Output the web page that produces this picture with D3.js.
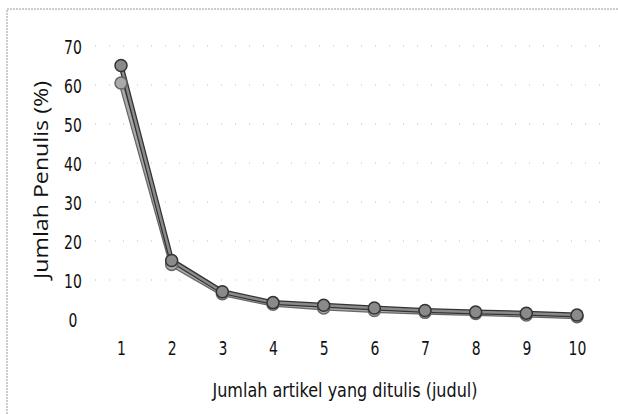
<!DOCTYPE html>
<html>
<head>
<meta charset="utf-8">
<script src="https://cdn.jsdelivr.net/npm/d3@7"></script>
<style>
  body { margin: 0; background: #fff; }
  text { fill: #111; }
</style>
</head>
<body>
<script>
// values
var categories = [1, 2, 3, 4, 5, 6, 7, 8, 9, 10];
var seriesA = [65, 15, 7, 4.2, 3.5, 2.8, 2.2, 1.8, 1.5, 1.0];
var seriesB = [60.5, 14, 6.5, 3.8, 2.8, 2.2, 1.7, 1.4, 1.0, 0.6];
var yTicks = [0, 10, 20, 30, 40, 50, 60, 70];

var width = 618, height = 414;
var narrow = 'scale(0.7,1)';

var svg = d3.select('body').append('svg')
  .attr('width', width)
  .attr('height', height);

// scanned page frame
svg.append('path')
  .attr('d', 'M7,414 V9 H618')
  .attr('fill', 'none')
  .attr('stroke', '#999')
  .attr('stroke-width', 1)
  .attr('stroke-dasharray', '2,1');

var x = d3.scaleLinear().domain([1, 10]).range([121, 577]);
var y = d3.scaleLinear().domain([0, 70]).range([319, 46]);

// dotted gridlines
svg.selectAll('.grid')
  .data(yTicks.filter(function(d) { return d > 0; }))
  .enter().append('line')
  .attr('x1', 95)
  .attr('x2', 602)
  .attr('y1', function(d) { return y(d); })
  .attr('y2', function(d) { return y(d); })
  .attr('stroke', '#bbb')
  .attr('stroke-width', 1)
  .attr('stroke-dasharray', '1,13');

// axes, text only
var yAxis = svg.append('g')
  .attr('transform', 'translate(73,0)')
  .call(d3.axisLeft(y).tickValues(yTicks).tickSize(0).tickPadding(0));
yAxis.select('.domain').remove();
yAxis.selectAll('text')
  .attr('font-family', '"DejaVu Sans", sans-serif')
  .attr('font-size', 20)
  .attr('dy', '0.38em')
  .attr('text-anchor', 'middle')
  .attr('transform', narrow);

var xAxis = svg.append('g')
  .attr('transform', 'translate(0,341)')
  .call(d3.axisBottom(x).tickValues(categories).tickFormat(d3.format('d')).tickSize(0).tickPadding(0));
xAxis.select('.domain').remove();
xAxis.selectAll('text')
  .attr('font-family', '"DejaVu Sans", sans-serif')
  .attr('font-size', 20)
  .attr('transform', narrow);

// axis titles
svg.append('text')
  .attr('x', 345)
  .attr('y', 397)
  .attr('text-anchor', 'middle')
  .attr('font-family', '"DejaVu Sans", sans-serif')
  .attr('font-size', 20)
  .attr('textLength', 265)
  .attr('lengthAdjust', 'spacingAndGlyphs')
  .text('Jumlah artikel yang ditulis (judul)');

svg.append('text')
  .attr('transform', 'translate(48,180) rotate(-90)')
  .attr('text-anchor', 'middle')
  .attr('font-family', '"Open Sans", "Noto Sans", sans-serif')
  .attr('font-size', 20)
  .attr('textLength', 198)
  .attr('lengthAdjust', 'spacingAndGlyphs')
  .text('Jumlah Penulis (%)');

var line = d3.line()
  .x(function(d, i) { return x(categories[i]); })
  .y(function(d) { return y(d); });

var series = [
  { values: seriesB, fill: '#aaa', edge: '#666' },
  { values: seriesA, fill: '#8a8a8a', edge: '#333' }
];

series.forEach(function(s) {
  svg.append('path')
    .attr('d', line(s.values))
    .attr('fill', 'none')
    .attr('stroke', s.edge)
    .attr('stroke-width', 5);
  svg.append('path')
    .attr('d', line(s.values))
    .attr('fill', 'none')
    .attr('stroke', s.fill)
    .attr('stroke-width', 2.5);
});

series.forEach(function(s) {
  svg.selectAll(null)
    .data(s.values)
    .enter().append('circle')
    .attr('cx', function(d, i) { return x(categories[i]); })
    .attr('cy', function(d) { return y(d); })
    .attr('r', 6)
    .attr('fill', s.fill)
    .attr('stroke', s.edge)
    .attr('stroke-width', 1.5);
});
</script>
</body>
</html>
